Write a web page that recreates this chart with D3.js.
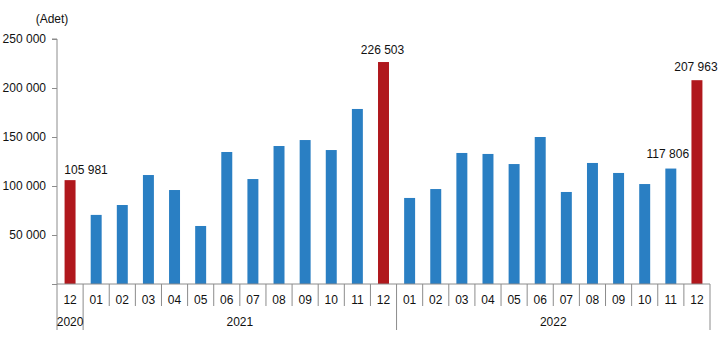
<!DOCTYPE html>
<html>
<head>
<meta charset="utf-8">
<script src="https://cdn.jsdelivr.net/npm/d3@7/dist/d3.min.js"></script>
<style>
  html, body { margin: 0; padding: 0; background: #fff; }
  svg { display: block; font-family: "Liberation Sans", Arial, sans-serif; }
</style>
</head>
<body>
<svg id="chart" width="722" height="349"></svg>
<script>
// Monthly counts (Adet), Dec 2020 through Dec 2022
const months = ["12", "01", "02", "03", "04", "05", "06", "07", "08", "09", "10", "11", "12",
                "01", "02", "03", "04", "05", "06", "07", "08", "09", "10", "11", "12"];
const years = ["2020", "2021", "2022"];
const yearOf = [0, 1, 1, 1, 1, 1, 1, 1, 1, 1, 1, 1, 1,
                2, 2, 2, 2, 2, 2, 2, 2, 2, 2, 2, 2];
const values = [105981, 70500, 80600, 111200, 95900, 59200, 134700, 107100, 140800, 146900, 136700, 178600, 226503,
                87800, 96900, 133700, 132700, 122400, 150000, 93900, 123500, 113300, 102000, 117806, 207963];
// Months shown in red (year-end)
const highlighted = [0, 12, 24];
// Bars carrying a value label
const labelled = [0, 12, 23, 24];
const yTicks = [0, 50000, 100000, 150000, 200000, 250000];

const svg = d3.select("#chart");
const blue = "#2a7fc3", red = "#b0181d", axisGray = "#8c8c8c", ink = "#111";
const fontSize = "12px";
const plotL = 57, plotR = 710, plotT = 39, plotB = 284;

const idx = d3.range(values.length);
const x = d3.scaleBand().domain(idx).range([plotL, plotR]).paddingInner(0.58).paddingOuter(0.29);
const y = d3.scaleLinear().domain([0, 250000]).range([plotB, plotT]);
const step = x.step();
const fmt = v => d3.format(",")(v).replace(/,/g, " ");

// Y axis
const yAxis = d3.axisLeft(y).tickValues(yTicks).tickSize(5).tickPadding(6)
  .tickFormat(v => v === 0 ? "" : fmt(v));
const gy = svg.append("g").attr("transform", `translate(${plotL},0)`).call(yAxis);
gy.select(".domain").attr("stroke", axisGray).attr("d", `M-5,${plotT}H0V${plotB}`);
gy.selectAll(".tick line").attr("stroke", axisGray);
gy.selectAll(".tick text").attr("fill", ink).style("font-size", fontSize)
  .style("font-family", '"Liberation Sans", Arial, sans-serif');

svg.append("text").attr("x", 52).attr("y", 22.5).attr("text-anchor", "middle")
  .attr("fill", ink).style("font-size", fontSize).text("(Adet)");

// Bars
svg.append("g").selectAll("rect").data(idx).join("rect")
  .attr("x", i => x(i))
  .attr("width", x.bandwidth())
  .attr("y", i => y(values[i]))
  .attr("height", i => y(0) - y(values[i]))
  .attr("fill", i => highlighted.includes(i) ? red : blue);

// Value labels
const nudge = {0: [16, -6], 12: [-1, -8], 23: [-3, -11], 24: [-1, -9]};
svg.append("g").selectAll("text").data(labelled).join("text")
  .attr("x", i => x(i) + x.bandwidth() / 2 + nudge[i][0])
  .attr("y", i => y(values[i]) + nudge[i][1])
  .attr("text-anchor", "middle")
  .attr("fill", ink).style("font-size", fontSize)
  .text(i => fmt(values[i]));

// Category axis
const gx = svg.append("g");
gx.append("line").attr("x1", plotL).attr("x2", plotR).attr("y1", plotB).attr("y2", plotB)
  .attr("stroke", axisGray);
const boundaries = d3.range(values.length + 1);
gx.selectAll("line.sep").data(boundaries).join("line").attr("class", "sep")
  .attr("x1", b => plotL + b * step).attr("x2", b => plotL + b * step)
  .attr("y1", plotB)
  .attr("y2", b => (b === 0 || b === values.length || yearOf[b] !== yearOf[b - 1]) ? 330 : 306)
  .attr("stroke", axisGray);
gx.selectAll("text.month").data(idx).join("text").attr("class", "month")
  .attr("x", i => x(i) + x.bandwidth() / 2).attr("y", 303.5)
  .attr("text-anchor", "middle").attr("fill", ink).style("font-size", fontSize)
  .text(i => months[i]);
gx.selectAll("text.year").data(years).join("text").attr("class", "year")
  .attr("x", (yr, k) => {
    const members = idx.filter(i => yearOf[i] === k);
    return plotL + (members[0] + (members[members.length - 1] + 1)) / 2 * step;
  })
  .attr("y", 325.5).attr("text-anchor", "middle").attr("fill", ink).style("font-size", fontSize)
  .text(d => d);
</script>
</body>
</html>
